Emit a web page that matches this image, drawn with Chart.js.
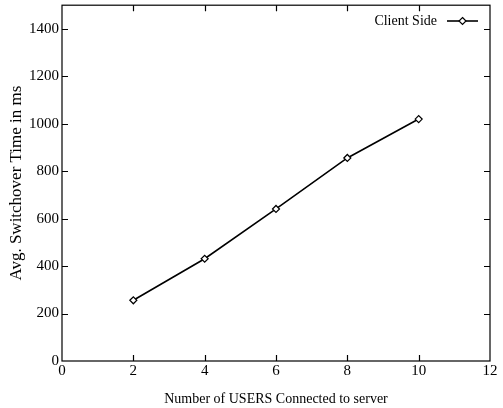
<!DOCTYPE html>
<html><head><meta charset="utf-8">
<script src="https://cdn.jsdelivr.net/npm/chart.js@4"></script>
<style>html,body{margin:0;padding:0;background:#fff}#wrap{width:503px;height:408px}</style>
</head><body><div id="wrap"><canvas id="c" width="503" height="408"></canvas></div>
<script>
const seriesName = "Client Side";
const usersX = [2, 4, 6, 8, 10];
const switchoverMs = [256, 431, 641, 856, 1020];
const xTicks = [0, 2, 4, 6, 8, 10, 12];
const yTicks = [0, 200, 400, 600, 800, 1000, 1200, 1400];
const xTitle = "Number of USERS Connected to server";
const yTitle = "Avg. Switchover Time in ms";

const FONT = "'Liberation Serif', 'Times New Roman', serif";

const framePlugin = {
  id: 'frame',
  afterDatasetsDraw(chart) {
    const {ctx, chartArea: a, scales} = chart;
    ctx.save();
    ctx.strokeStyle = '#000';
    ctx.lineWidth = 1.2;
    ctx.strokeRect(a.left, a.top, a.right - a.left, a.bottom - a.top);
    const t = 6;
    ctx.beginPath();
    xTicks.forEach(v => {
      if (v === 0 || v === 12) return;
      const px = Math.round(scales.x.getPixelForValue(v)) + 0.5;
      ctx.moveTo(px, a.bottom); ctx.lineTo(px, a.bottom - t);
      ctx.moveTo(px, a.top); ctx.lineTo(px, a.top + t);
    });
    yTicks.forEach(v => {
      if (v === 0) return;
      const py = Math.round(scales.y.getPixelForValue(v)) + 0.5;
      ctx.moveTo(a.left, py); ctx.lineTo(a.left + t, py);
      ctx.moveTo(a.right, py); ctx.lineTo(a.right - t, py);
    });
    ctx.stroke();
    // legend
    const ds = chart.data.datasets[0];
    ctx.font = "14px " + FONT;
    ctx.fillStyle = '#000';
    ctx.textAlign = 'right';
    ctx.textBaseline = 'middle';
    ctx.fillText(ds.label, 437, 21);
    ctx.lineWidth = 1.6;
    ctx.beginPath();
    ctx.moveTo(447, 21); ctx.lineTo(478, 21);
    ctx.stroke();
    ctx.beginPath();
    const r = 3.5, cx = 462.5, cy = 21;
    ctx.moveTo(cx, cy - r); ctx.lineTo(cx + r, cy); ctx.lineTo(cx, cy + r); ctx.lineTo(cx - r, cy); ctx.closePath();
    ctx.fillStyle = '#fff'; ctx.fill();
    ctx.lineWidth = 1.2; ctx.stroke();
    ctx.restore();
  }
};

function noPad(s) { s.paddingTop = 0; s.paddingBottom = 0; s.paddingLeft = 0; s.paddingRight = 0; }

new Chart(document.getElementById('c'), {
  type: 'scatter',
  data: {
    datasets: [{
      label: seriesName,
      data: usersX.map((x, i) => ({x, y: switchoverMs[i]})),
      showLine: true,
      borderColor: '#000',
      borderWidth: 1.6,
      pointStyle: 'rectRot',
      pointRadius: 3.5,
      pointBackgroundColor: '#fff',
      pointBorderColor: '#000',
      pointBorderWidth: 1.2,
      tension: 0
    }]
  },
  options: {
    responsive: false,
    animation: false,
    layout: {padding: {top: 4, right: 13, left: 0, bottom: 0}},
    plugins: {legend: {display: false}, tooltip: {enabled: false}},
    scales: {
      x: {
        type: 'linear', min: 0, max: 12,
        afterBuildTicks: s => { s.ticks = xTicks.map(v => ({value: v})); },
        afterFit: s => { s.height = 47; noPad(s); },
        grid: {display: false, drawTicks: false},
        border: {display: false},
        ticks: {color: '#000', font: {family: FONT, size: 15}, padding: 1, maxRotation: 0, callback: v => String(v)},
        title: {display: true, text: xTitle, color: '#000', font: {family: FONT, size: 14}, padding: {top: 2, bottom: 0}}
      },
      y: {
        type: 'linear', min: 0, max: 1500,
        afterBuildTicks: s => { s.ticks = yTicks.map(v => ({value: v})); },
        afterFit: s => { s.width = 62; noPad(s); },
        grid: {display: false, drawTicks: false},
        border: {display: false},
        ticks: {color: '#000', font: {family: FONT, size: 15}, padding: 3, callback: v => String(v)},
        title: {display: true, text: yTitle, color: '#000', font: {family: FONT, size: 17}, padding: {top: 6, bottom: 0}}
      }
    }
  },
  plugins: [framePlugin]
});
</script>
</body></html>
